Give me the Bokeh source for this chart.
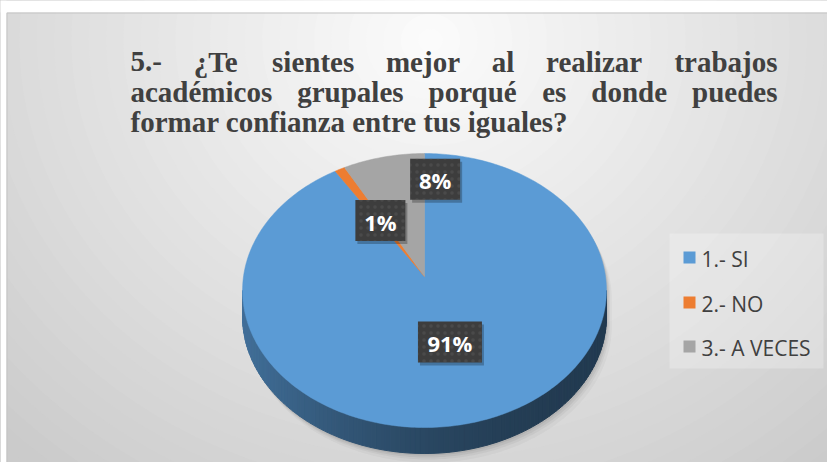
import numpy as np
from bokeh.plotting import figure
from bokeh.models import Range1d
from bokeh.core.properties import value
from bokeh.embed import file_html
from bokeh.resources import INLINE

# ---------------- data ----------------
categories = ["1.- SI", "2.- NO", "3.- A VECES"]
percent = [91, 1, 8]
slice_colors = ["#5B9BD5", "#ED7D31", "#A5A5A5"]
pct_labels = ["91%", "1%", "8%"]
title_line1 = ["5.-", "¿Te", "sientes", "mejor", "al", "realizar", "trabajos"]
title_line2 = ["académicos", "grupales", "porqué", "es", "donde", "puedes"]
title_line3 = "formar confianza entre tus iguales?"

# ---------------- layout ----------------
W, H = 827, 462
p = figure(width=W, height=H, x_range=Range1d(0, W), y_range=Range1d(H, 0),
           output_backend="svg", toolbar_location=None, min_border=0,
           x_axis_location=None, y_axis_location=None)
p.grid.visible = False
p.outline_line_color = None
p.background_fill_color = "white"
p.border_fill_color = "white"

# background radial gradient
gcx, gcy = 430, 40
n = 45
ts = np.linspace(1.25, 0.02, n)
ws = 2 * 620 * ts
hs = 2 * 560 * ts
def gray(t):
    t = min(t, 1.0)
    v = int(round(252 - (252 - 203) * t))
    return "#%02x%02x%02x" % (v, v, v)
p.ellipse(x=[gcx] * n, y=[gcy] * n, width=list(ws), height=list(hs),
          fill_color=[gray(t) for t in ts], line_color=None)
# white strips and frame
p.quad(left=0, right=W, top=0, bottom=12, fill_color="white", line_color=None)
p.quad(left=0, right=6, top=0, bottom=H, fill_color="white", line_color=None)
p.quad(left=6.5, right=W + 5, top=12.5, bottom=H + 5, fill_color=None,
       line_color="#c4c4c4", line_width=1)

# ---------------- 3D pie ----------------
cx, cy = 424, 276
F, D, elev = 1171.0, 6.47, np.radians(48.5)
depth = 26
ce, se = np.cos(elev), np.sin(elev)

def proj(theta, r=1.0):
    u = r * np.sin(theta)
    v = r * np.cos(theta)
    z = D + v * ce
    return cx + F * u / z, cy - F * v * se / z

fr = np.array(percent, dtype=float) / sum(percent)
ends = np.cumsum(fr) * 2 * np.pi
starts = ends - fr * 2 * np.pi

def slice_at(theta):
    for i in range(len(fr)):
        if starts[i] <= theta <= ends[i]:
            return i
    return len(fr) - 1

def shade(hexc, f):
    hexc = hexc.lstrip("#")
    r, g, b = (int(hexc[k:k + 2], 16) for k in (0, 2, 4))
    return "#%02x%02x%02x" % (int(r * f), int(g * f), int(b * f))

# silhouette angles
thR = np.arccos(-ce / D)
thL = 2 * np.pi - thR

# shadow
tt = np.linspace(0, 2 * np.pi, 361)
ox, oy = proj(tt)
front = np.cos(tt) < -ce / D
oy2 = oy + np.where(front, depth, 0)
for k, a in zip([9, 6, 4, 2], [0.03, 0.04, 0.05, 0.06]):
    p.patch(ox + k * 0.6, oy2 + k, fill_color="black", fill_alpha=a, line_color=None)

# side
st = np.linspace(thR, thL, 121)
sx, sy = proj(st)
xs, ys, cs = [], [], []
xmin, xmax = sx.min(), sx.max()
for i in range(len(st) - 1):
    xs.append([sx[i], sx[i + 1], sx[i + 1], sx[i]])
    ys.append([sy[i], sy[i + 1], sy[i + 1] + depth, sy[i] + depth])
    mid = 0.5 * (st[i] + st[i + 1])
    t = (xmax - 0.5 * (sx[i] + sx[i + 1])) / (xmax - xmin)
    f = 0.38 + 0.34 * t ** 2
    cs.append(shade(slice_colors[slice_at(mid)], f))
p.patches(xs, ys, fill_color=cs, line_color=cs, line_width=1)

# top faces
for i in range(len(fr)):
    th = np.linspace(starts[i], ends[i], max(3, int(fr[i] * 360)))
    px, py = proj(th)
    p.patch(np.concatenate([[cx], px]), np.concatenate([[cy], py]),
            fill_color=slice_colors[i], line_color=slice_colors[i], line_width=0.5)

# data labels
label_r = [0.48, 0.5, 0.8]
label_dx = [0, 0, 44]
for i in range(len(fr)):
    mid = 0.5 * (starts[i] + ends[i])
    lx, ly = proj(mid, label_r[i])
    lx += label_dx[i]
    bw = 22 + 14 * len(pct_labels[i])
    p.rect(x=lx + 2, y=ly + 3, width=bw, height=41, fill_color="black", fill_alpha=0.25,
           line_color=None)
    p.rect(x=lx, y=ly, width=bw, height=41, fill_color="#3d3d3d", line_color=None,
           hatch_pattern="dot", hatch_color="#606060", hatch_scale=7, hatch_alpha=0.35)
    p.text(x=[lx], y=[ly + 1], text=[pct_labels[i]], text_color="white",
           text_font=value("Open Sans"), text_font_style="bold", text_font_size="22px",
           text_align="center", text_baseline="middle")

# ---------------- legend ----------------
p.quad(left=669, right=823, top=233, bottom=368, fill_color="white", fill_alpha=0.25,
       line_color=None)
leg_y = [257, 302, 346]
for i, c in enumerate(categories):
    p.rect(x=689, y=leg_y[i], width=12, height=12, fill_color=slice_colors[i], line_color=None)
    p.text(x=[701], y=[leg_y[i] + 1], text=[c], text_color="#404040",
           text_font=value("Open Sans"), text_font_size="21px",
           text_align="left", text_baseline="middle")

# ---------------- title (justified lines) ----------------
FS = 29
# approximate Times-Bold advance widths (per 1000 em) used to justify words
adv = {"a": 500, "b": 556, "c": 444, "d": 556, "e": 444, "f": 333, "g": 500, "h": 556,
       "i": 278, "j": 333, "l": 278, "m": 833, "n": 556, "o": 500, "p": 556, "q": 556,
       "r": 444, "s": 389, "t": 333, "u": 556, "z": 444, "é": 444, "¿": 500, "T": 667,
       "5": 500, ".": 250, "-": 333, "?": 500}
def word_w(wd):
    return sum(adv.get(ch, 500) for ch in wd) * FS / 1000.0

tfont = dict(text_color="#404040", text_font=value("Liberation Serif"),
             text_font_style="bold", text_font_size="%dpx" % FS, text_baseline="alphabetic")
left_x, right_x = 130, 777

def justified(words, y):
    widths = [word_w(wd) for wd in words]
    gap = (right_x - left_x - sum(widths)) / (len(words) - 1)
    x = left_x
    for k, wd in enumerate(words):
        if k == len(words) - 1:
            p.text(x=[right_x], y=[y], text=[wd], text_align="right", **tfont)
        else:
            p.text(x=[x], y=[y], text=[wd], text_align="left", **tfont)
        x += widths[k] + gap

justified(title_line1, 61)
justified(title_line2, 91)
p.text(x=[left_x], y=[121], text=[title_line3], text_align="left", **tfont)

open("out.html", "w").write(file_html(p, INLINE))
